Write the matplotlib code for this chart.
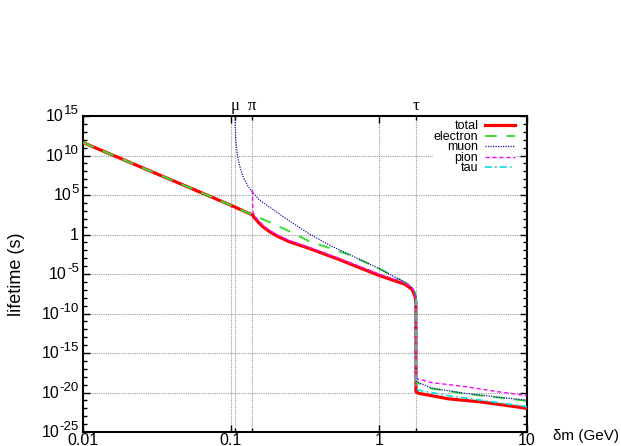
import matplotlib
matplotlib.use("Agg")
import matplotlib.pyplot as plt
from matplotlib.offsetbox import TextArea, HPacker, VPacker, DrawingArea, AnnotationBbox
import numpy as np

plt.rcParams['font.family'] = ['Liberation Sans', 'DejaVu Sans']

# thresholds (GeV)
m_mu, m_pi, m_tau = 0.1057, 0.1396, 1.777

# curves: x in GeV, y as log10(lifetime / s)
total_x = [0.01, 0.1, 0.1396, 0.145, 0.1549, 0.165, 0.181, 0.205, 0.2466, 0.3365, 0.535, 1.0,
           1.5, 1.67, 1.75, 1.776, 1.7775, 1.85, 2.27, 2.94, 4.92, 10.0]
total_y = [11.64, 3.7, 2.47, 2.05, 1.45, 0.95, 0.4, -0.2, -0.9, -1.75, -3.15, -5.18,
           -6.3, -6.94, -7.8, -8.6, -19.9, -20.1, -20.4, -20.8, -21.2, -22.0]

electron_x = [0.01, 0.1, 0.1396, 0.181, 0.2466, 0.3365, 0.458, 0.625, 1.0, 1.58, 1.70, 1.76,
              1.776, 1.7775, 2.27, 3.8, 10.0]
electron_y = [11.64, 3.7, 2.47, 1.6, 0.42, -0.85, -1.68, -2.55, -4.3, -6.3, -6.9, -7.5,
              -8.0, -18.7, -19.5, -20.15, -21.05]

muon_x = [0.1062, 0.1066, 0.1078, 0.110, 0.114, 0.1197, 0.1227, 0.130, 0.1396, 0.155, 0.181,
          0.2466, 0.3365, 0.458, 0.625, 1.0, 1.58, 1.70, 1.76, 1.776, 1.7775, 2.27, 3.8, 10.0]
muon_y = [15.2, 14.2, 12.0, 10.3, 8.8, 7.5, 7.0, 6.15, 5.35, 4.4, 3.5,
          1.75, 0.1, -1.3, -2.5, -4.3, -6.3, -6.9, -7.5, -8.0, -18.6, -19.45, -20.1, -21.0]

pion_x = [0.13970, 0.1400, 0.1410, 0.145, 0.1549, 0.165, 0.181, 0.205, 0.2466, 0.3365, 0.535,
          1.0, 1.5, 1.67, 1.75, 1.776, 1.7775, 2.27, 3.8, 6.37, 10.0]
pion_y = [5.63, 3.5, 2.8, 2.3, 1.7, 1.15, 0.55, -0.05, -0.75, -1.62, -3.0,
          -5.0, -6.1, -6.7, -7.5, -8.4, -18.2, -18.75, -19.25, -19.9, -20.4]

tau_x = [1.7772, 1.7775, 1.84, 2.94, 5.0, 10.0]
tau_y = [-8.2, -19.25, -19.7, -20.4, -21.0, -21.8]

ytick_exp = [15, 10, 5, 0, -5, -10, -15, -20, -25]
xticks = [0.01, 0.1, 1, 10]
xtick_labels = ['0.01', '0.1', '1', '10']
top_ticks = [m_mu, m_pi, m_tau]
top_labels = ['μ', 'π', 'τ']

fig = plt.figure(figsize=(6.21, 4.46), dpi=100)
ax = fig.add_axes([83 / 621, 1 - 432 / 446, 444 / 621, 316 / 446])

ax.plot(total_x, 10.0 ** np.array(total_y), color='#ff0000', lw=2.3, label='total', zorder=3)
ax.plot(electron_x, 10.0 ** np.array(electron_y), color='#33e033', lw=1.4,
        dashes=(6, 5), label='electron', zorder=4)
ax.plot(muon_x, 10.0 ** np.array(muon_y), color='#1a1aa0', lw=0.9,
        linestyle=(0, (1, 1)), label='muon', zorder=5)
ax.plot(pion_x, 10.0 ** np.array(pion_y), color='#ff00ff', lw=1.0,
        dashes=(3, 2), label='pion', zorder=6)
ax.plot(tau_x, 10.0 ** np.array(tau_y), color='#00dddd', lw=1.2,
        dashes=(4, 2, 1, 2), label='tau', zorder=7)

ax.set_xscale('log')
ax.set_yscale('log')
ax.set_xlim(0.01, 10)
ax.set_ylim(1e-25, 1e15)

ax.set_xticks(xticks)
ax.set_xticklabels(xtick_labels, fontsize=11.5)
ax.set_xticks(top_ticks, minor=True)
ax.set_xticklabels([], minor=True)
ax.set_yticks([10.0 ** e for e in ytick_exp])
ax.set_yticklabels([])
ax.set_yticks([10.0 ** e for e in range(-25, 16)], minor=True)
ax.set_yticklabels([], minor=True)

ax.tick_params(which='both', direction='in', top=True, right=True, width=1.0)
ax.tick_params(which='major', length=5, pad=2)
ax.tick_params(which='minor', length=3)
ax.tick_params(axis='x', which='major', pad=1)

for s in ax.spines.values():
    s.set_linewidth(1.5)

# y tick labels as "10" with a raised exponent
for e in ytick_exp:
    if e == 0:
        box = TextArea('1', textprops=dict(size=11.5))
        dy = -1
    else:
        base = VPacker(children=[DrawingArea(1, 3), TextArea('10', textprops=dict(size=11.5))],
                       pad=0, sep=0)
        box = HPacker(children=[base, TextArea(str(e), textprops=dict(size=9.5))],
                      align='top', pad=0, sep=0)
        dy = 1
    ab = AnnotationBbox(box, (0, 10.0 ** e), xycoords=('axes fraction', 'data'),
                        xybox=(-3, dy), boxcoords='offset points', box_alignment=(1, 0.5),
                        frameon=False, pad=0, annotation_clip=False)
    ax.add_artist(ab)

grid_kw = dict(color='#999999', lw=0.8, linestyle=(0, (1, 1)), zorder=1)
for e in ytick_exp[1:-1]:
    ax.axhline(10.0 ** e, **grid_kw)
for xv in [0.1, 1.0] + top_ticks:
    ax.axvline(xv, **grid_kw)

sec = ax.secondary_xaxis('top')
sec.set_xticks(top_ticks)
sec.set_xticklabels(top_labels, fontsize=12, family=['Liberation Serif', 'DejaVu Serif'])
sec.tick_params(length=0, pad=1.5)
sec.xaxis.set_minor_locator(plt.NullLocator())
sec.spines['top'].set_visible(False)

leg = ax.legend(loc='upper right', bbox_to_anchor=(0.975, 0.99), markerfirst=False,
                fontsize=9, frameon=True, fancybox=False, edgecolor='none',
                facecolor='white', framealpha=1, handlelength=2.4, handletextpad=0.5,
                labelspacing=-0.12, borderpad=0.1, borderaxespad=0)
leg.set_zorder(10)

ax.set_ylabel('lifetime (s)', fontsize=13)
ax.yaxis.set_label_coords(-0.13, 0.5)
fig.text(553 / 621, 1 - 436 / 446, 'δm (GeV)', fontsize=11, ha='left', va='center')

fig.savefig('out.png', dpi=100)
